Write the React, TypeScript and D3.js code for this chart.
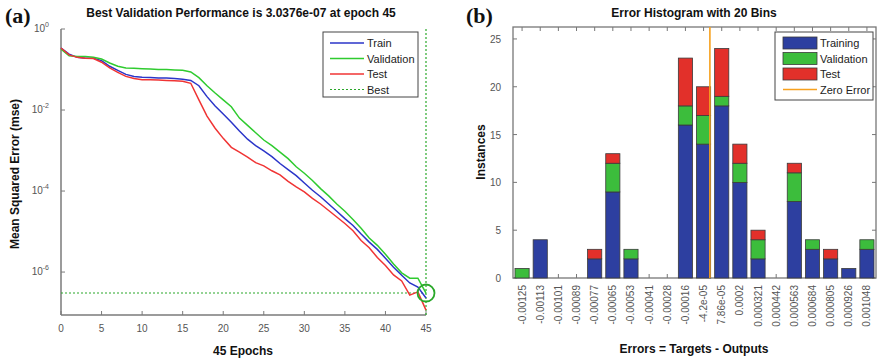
import React, { useRef, useEffect } from 'react';
import * as d3 from 'd3';

// ---- performance plot data (log10 of mse per epoch) ----
const epochs = d3.range(0, 46);
const trainLog = [-0.47, -0.62, -0.70, -0.72, -0.72, -0.78, -0.92, -1.02, -1.12, -1.17, -1.19, -1.20, -1.21, -1.21, -1.22, -1.24,
    -1.27, -1.40, -1.67, -1.90, -2.10, -2.30, -2.52, -2.72, -2.88, -3.01, -3.15, -3.32, -3.47, -3.62, -3.80, -3.98,
    -4.14, -4.32, -4.50, -4.68, -4.85, -5.06, -5.26, -5.44, -5.66, -5.88, -6.08, -6.27, -6.37, -6.64];
const validLog = [-0.50, -0.66, -0.68, -0.68, -0.70, -0.74, -0.84, -0.92, -0.96, -0.97, -0.98, -0.99, -1.00, -1.00, -1.01, -1.02,
    -1.06, -1.20, -1.40, -1.58, -1.75, -1.92, -2.20, -2.38, -2.56, -2.74, -2.88, -3.04, -3.20, -3.40, -3.56, -3.74,
    -3.94, -4.12, -4.32, -4.50, -4.70, -4.92, -5.16, -5.34, -5.56, -5.80, -6.02, -6.15, -6.15, -6.52];
const testLog = [-0.47, -0.64, -0.70, -0.72, -0.73, -0.82, -0.96, -1.07, -1.17, -1.22, -1.25, -1.25, -1.26, -1.27, -1.28, -1.29,
    -1.34, -1.75, -2.15, -2.45, -2.70, -2.92, -3.04, -3.16, -3.30, -3.38, -3.50, -3.60, -3.76, -3.90, -4.02, -4.18,
    -4.32, -4.48, -4.64, -4.80, -4.98, -5.22, -5.40, -5.64, -5.84, -6.07, -6.22, -6.57, -6.49, -6.94];
const bestEpoch = 45;
const bestPerf = 3.0376e-7;
const perfXTicks = [0, 5, 10, 15, 20, 25, 30, 35, 40, 45];
const perfYTickExp = [0, -2, -4, -6];
const perfLegend = ['Train', 'Validation', 'Test', 'Best'];

// ---- error histogram data ----
const binLabels = ['-0.00125', '-0.00113', '-0.00101', '-0.00089', '-0.00077', '-0.00065', '-0.00053', '-0.00041', '-0.00028', '-0.00016',
    '-4.2e-05', '7.86e-05', '0.0002', '0.000321', '0.000442', '0.000563', '0.000684', '0.000805', '0.000926', '0.001048'];
const binValues = binLabels.map(Number);
const histTraining = [0, 4, 0, 0, 2, 9, 2, 0, 0, 16, 14, 18, 10, 2, 0, 8, 3, 2, 1, 3];
const histValidation = [1, 0, 0, 0, 0, 3, 1, 0, 0, 2, 3, 1, 2, 2, 0, 3, 1, 0, 0, 1];
const histTest = [0, 0, 0, 0, 1, 1, 0, 0, 0, 5, 3, 5, 2, 1, 0, 1, 0, 1, 0, 0];
const histYTicks = [0, 5, 10, 15, 20, 25];
const histLegend = ['Training', 'Validation', 'Test', 'Zero Error'];

const W = 882;
const H = 363;
const FONT = '"Liberation Sans", Arial, sans-serif';
const lineColors = ['#2b35c9', '#2fcb2f', '#f03434'];
const barColors = ['#2d3fa0', '#3cbd3c', '#e2302a'];
const orange = '#f7a11e';
const bestGreen = '#2aa82a';

const App: React.FC = () => {
    const svgRef = useRef<SVGSVGElement | null>(null);

    useEffect(() => {
        if (!svgRef.current) return;
        const svg = d3.select(svgRef.current);
        svg.selectAll('*').remove();
        svg.append('rect').attr('width', W).attr('height', H).attr('fill', 'white');

        // ================= (a) performance =================
        const pm = { left: 61, right: 426, top: 29, bottom: 315 };
        const x = d3.scaleLinear().domain([0, 45]).range([pm.left, pm.right]);
        const y = d3.scaleLog().domain([Math.pow(10, -7.06), 1]).range([pm.bottom, pm.top]);
        const a = svg.append('g');

        // axes lines
        a.append('line').attr('x1', pm.left).attr('x2', pm.left).attr('y1', pm.top).attr('y2', pm.bottom)
            .attr('stroke', '#7a7a7a').attr('stroke-width', 1.5);
        a.append('line').attr('x1', pm.left).attr('x2', pm.right).attr('y1', pm.bottom).attr('y2', pm.bottom)
            .attr('stroke', '#7a7a7a').attr('stroke-width', 1.5);

        perfXTicks.forEach(t => {
            a.append('line').attr('x1', x(t)).attr('x2', x(t)).attr('y1', pm.bottom).attr('y2', pm.bottom - 4)
                .attr('stroke', '#7a7a7a');
            a.append('text').attr('x', x(t)).attr('y', pm.bottom + 17).attr('text-anchor', 'middle')
                .attr('font-family', FONT).attr('font-size', 10).attr('fill', '#555').text(t);
        });
        perfYTickExp.forEach(e => {
            const yy = y(Math.pow(10, e));
            a.append('line').attr('x1', pm.left).attr('x2', pm.left + 4).attr('y1', yy).attr('y2', yy)
                .attr('stroke', '#7a7a7a');
            const t = a.append('text').attr('x', pm.left - 12).attr('y', yy + 3).attr('text-anchor', 'end')
                .attr('font-family', FONT).attr('font-size', 10).attr('fill', '#555');
            t.append('tspan').text('10');
            t.append('tspan').attr('font-size', 7).attr('dy', -5).text(String(e));
        });

        // best markers
        a.append('line').attr('x1', pm.left).attr('x2', x(bestEpoch)).attr('y1', y(bestPerf)).attr('y2', y(bestPerf))
            .attr('stroke', bestGreen).attr('stroke-width', 1.2).attr('stroke-dasharray', '2,2');
        a.append('line').attr('x1', x(bestEpoch)).attr('x2', x(bestEpoch)).attr('y1', pm.top).attr('y2', pm.bottom)
            .attr('stroke', bestGreen).attr('stroke-width', 1.2).attr('stroke-dasharray', '2,2');

        const line = d3.line<number>()
            .x((_, i) => x(epochs[i]))
            .y(d => y(Math.pow(10, d)));
        [trainLog, validLog, testLog].forEach((s, i) => {
            a.append('path').datum(s).attr('d', line).attr('fill', 'none')
                .attr('stroke', lineColors[i]).attr('stroke-width', 1.5);
        });

        a.append('circle').attr('cx', x(bestEpoch)).attr('cy', y(bestPerf)).attr('r', 8.5)
            .attr('fill', 'none').attr('stroke', bestGreen).attr('stroke-width', 1.8);

        // legend
        const lg = a.append('g');
        lg.append('rect').attr('x', 323).attr('y', 32).attr('width', 95).attr('height', 65)
            .attr('fill', 'white').attr('stroke', '#444');
        perfLegend.forEach((name, i) => {
            const ly = 43 + i * 15.5;
            lg.append('line').attr('x1', 330).attr('x2', 364).attr('y1', ly).attr('y2', ly)
                .attr('stroke', i < 3 ? lineColors[i] : bestGreen)
                .attr('stroke-width', i < 3 ? 1.5 : 1.2)
                .attr('stroke-dasharray', i < 3 ? null : '2,2');
            lg.append('text').attr('x', 367).attr('y', ly + 4).attr('font-family', FONT).attr('font-size', 11)
                .attr('fill', '#222').text(name);
        });

        a.append('text').attr('x', 241).attr('y', 17).attr('text-anchor', 'middle').attr('font-family', FONT)
            .attr('font-weight', 'bold').attr('font-size', 12).attr('fill', '#111')
            .text('Best Validation Performance is 3.0376e-07 at epoch 45');
        a.append('text').attr('x', 243).attr('y', 355).attr('text-anchor', 'middle').attr('font-family', FONT)
            .attr('font-weight', 'bold').attr('font-size', 12).attr('fill', '#111').text('45 Epochs');
        a.append('text').attr('transform', 'translate(19,174) rotate(-90)').attr('text-anchor', 'middle')
            .attr('font-family', FONT).attr('font-weight', 'bold').attr('font-size', 12).attr('fill', '#111')
            .text('Mean Squared Error  (mse)');
        a.append('text').attr('x', 5).attr('y', 23).attr('font-family', '"Liberation Serif", "Times New Roman", serif')
            .attr('font-weight', 'bold').attr('font-size', 22).attr('fill', '#111').text('(a)');

        // ================= (b) histogram =================
        const hm = { left: 513, right: 876, top: 27, bottom: 278 };
        const xb = d3.scaleBand<string>().domain(binLabels).range([hm.left, hm.right])
            .paddingInner(0.22).paddingOuter(0.11);
        const yb = d3.scaleLinear().domain([0, 26.25]).range([hm.bottom, hm.top]);
        const b = svg.append('g');

        b.append('rect').attr('x', hm.left).attr('y', hm.top).attr('width', hm.right - hm.left)
            .attr('height', hm.bottom - hm.top).attr('fill', 'white').attr('stroke', '#777').attr('stroke-width', 1.3);

        histYTicks.forEach(t => {
            const yy = yb(t);
            b.append('line').attr('x1', hm.left).attr('x2', hm.left + 4).attr('y1', yy).attr('y2', yy).attr('stroke', '#777');
            b.append('line').attr('x1', hm.right).attr('x2', hm.right - 4).attr('y1', yy).attr('y2', yy).attr('stroke', '#777');
            b.append('text').attr('x', hm.left - 12).attr('y', yy + 4).attr('text-anchor', 'end')
                .attr('font-family', FONT).attr('font-size', 10).attr('fill', '#555').text(t);
        });
        binLabels.forEach(l => {
            const cx = (xb(l) as number) + xb.bandwidth() / 2;
            b.append('line').attr('x1', cx).attr('x2', cx).attr('y1', hm.top).attr('y2', hm.top + 4).attr('stroke', '#777');
            b.append('line').attr('x1', cx).attr('x2', cx).attr('y1', hm.bottom).attr('y2', hm.bottom - 4).attr('stroke', '#777');
            b.append('text').attr('transform', `translate(${cx + 3.5},${hm.bottom + 7}) rotate(-90)`)
                .attr('text-anchor', 'end').attr('font-family', FONT).attr('font-size', 10).attr('fill', '#555').text(l);
        });

        const rows = binLabels.map((l, i) => ({ bin: l, training: histTraining[i], validation: histValidation[i], test: histTest[i] }));
        const stack = d3.stack<any>().keys(['training', 'validation', 'test'])(rows);
        stack.forEach((layer, k) => {
            b.append('g').selectAll('rect').data(layer.filter(d => d[1] > d[0])).join('rect')
                .attr('x', d => xb(d.data.bin) as number)
                .attr('width', xb.bandwidth())
                .attr('y', d => yb(d[1]))
                .attr('height', d => yb(d[0]) - yb(d[1]))
                .attr('fill', barColors[k])
                .attr('stroke', '#3a3a3a').attr('stroke-width', 0.8);
        });

        // zero error line between the bins on either side of zero
        const i0 = binValues.findIndex(v => v > 0);
        const zx = d3.scaleLinear().domain([binValues[i0 - 1], binValues[i0]])
            .range([(xb(binLabels[i0 - 1]) as number) + xb.bandwidth() / 2, (xb(binLabels[i0]) as number) + xb.bandwidth() / 2]);
        b.append('line').attr('x1', zx(0)).attr('x2', zx(0)).attr('y1', hm.top).attr('y2', hm.bottom)
            .attr('stroke', orange).attr('stroke-width', 1.6);

        // legend
        const hl = b.append('g');
        hl.append('rect').attr('x', 775).attr('y', 32).attr('width', 98).attr('height', 68)
            .attr('fill', 'white').attr('stroke', '#444');
        histLegend.forEach((name, i) => {
            const ly = 43 + i * 15.5;
            if (i < 3) {
                hl.append('rect').attr('x', 783).attr('y', ly - 6).attr('width', 34).attr('height', 12)
                    .attr('fill', barColors[i]).attr('stroke', '#3a3a3a').attr('stroke-width', 0.8);
            } else {
                hl.append('line').attr('x1', 783).attr('x2', 817).attr('y1', ly).attr('y2', ly)
                    .attr('stroke', orange).attr('stroke-width', 1.6);
            }
            hl.append('text').attr('x', 820).attr('y', ly + 4).attr('font-family', FONT).attr('font-size', 11)
                .attr('fill', '#222').text(name);
        });

        b.append('text').attr('x', 694).attr('y', 17).attr('text-anchor', 'middle').attr('font-family', FONT)
            .attr('font-weight', 'bold').attr('font-size', 12).attr('fill', '#111').text('Error Histogram with 20 Bins');
        b.append('text').attr('x', 694).attr('y', 353).attr('text-anchor', 'middle').attr('font-family', FONT)
            .attr('font-weight', 'bold').attr('font-size', 12).attr('fill', '#111').text('Errors = Targets - Outputs');
        b.append('text').attr('transform', 'translate(485,152) rotate(-90)').attr('text-anchor', 'middle')
            .attr('font-family', FONT).attr('font-weight', 'bold').attr('font-size', 12).attr('fill', '#111').text('Instances');
        b.append('text').attr('x', 466).attr('y', 23).attr('font-family', '"Liberation Serif", "Times New Roman", serif')
            .attr('font-weight', 'bold').attr('font-size', 22).attr('fill', '#111').text('(b)');
    }, []);

    return <svg ref={svgRef} width={W} height={H} style={{ position: 'absolute', left: 0, top: 0 }}></svg>;
};

export default App;
